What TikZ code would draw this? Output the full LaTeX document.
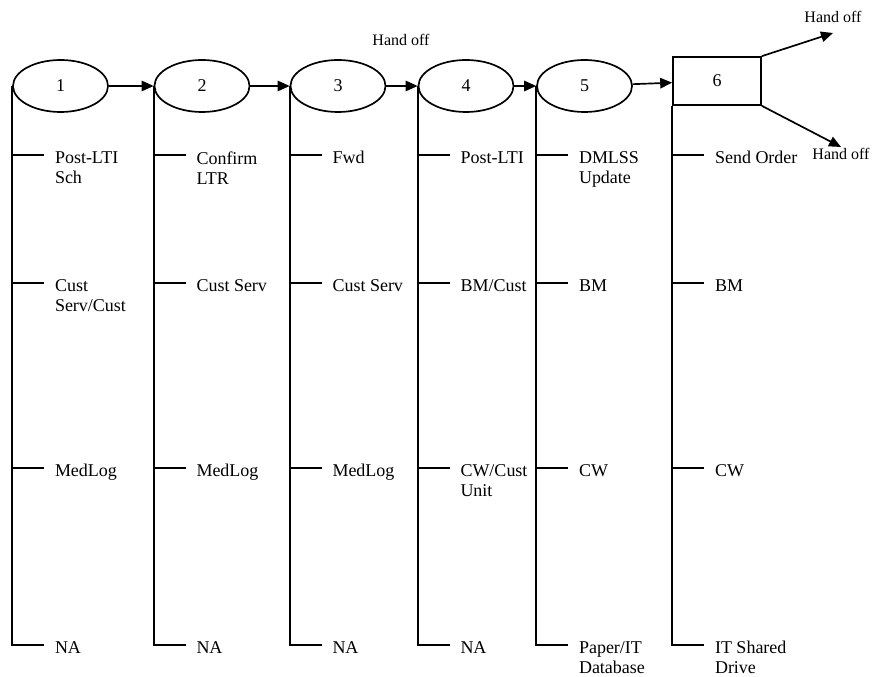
\documentclass[tikz,border=0pt]{standalone}
\usepackage{fontspec}
\setmainfont{Liberation Serif}
\usetikzlibrary{shapes.geometric, arrows.meta, positioning}

\begin{document}
\begin{tikzpicture}[
  line width=1.2pt,
  stn/.style={ellipse, draw, minimum width=2.375cm, minimum height=1.3cm,
    inner sep=0pt, font=\fontsize{12.8}{14.2}\selectfont},
  endbox/.style={rectangle, draw, minimum width=2.2cm, minimum height=1.2cm,
    inner sep=0pt, font=\fontsize{12.8}{14.2}\selectfont},
  arr/.style={-{Triangle[length=3mm, width=2.6mm]}},
  lbl/.style={anchor=north west, inner sep=0pt, align=left,
    xshift=0.25cm, yshift=0.11cm, font=\fontsize{12.8}{14.2}\selectfont},
  hnd/.style={inner sep=0pt, font=\fontsize{11.4}{13}\selectfont},
]
\useasboundingbox (0,0) rectangle (21.8,-16.925);

% steps
\node[stn]    (s1) at (1.5125,  -2.15)  {1};
\node[stn]    (s2) at (5.05,    -2.15)  {2};
\node[stn]    (s3) at (8.45,    -2.15)  {3};
\node[stn]    (s4) at (11.65,   -2.15)  {4};
\node[stn]    (s5) at (14.6125, -2.15)  {5};
\node[endbox] (s6) at (17.925,  -2.025) {6};

\draw[arr] (s1.east) -- (s2.west);
\draw[arr] (s2.east) -- (s3.west);
\draw[arr] (s3.east) -- (s4.west);
\draw[arr] (s4.east) -- (s5.west);
\draw[arr] (s5) -- (s6);

% hand offs
\node[hnd] (ho1) at (10.025, -1.0)  {Hand off};
\coordinate (h1) at (20.825, -0.825);
\coordinate (h2) at (21.025, -3.675);
\node[hnd] (ho2) at (20.825, -0.425) {Hand off};
\node[hnd] (ho3) at (21.025, -3.85)  {Hand off};
\draw[arr] (s6.north east) -- (h1);
\draw[arr] (s6.south east) -- (h2);

% column 1
\draw (s1.west) -- (s1.west |- 0,-16.125) -- ++(0.8,0) node[lbl] (l14) {NA};
\draw (s1.west |- 0,-3.875) -- ++(0.8,0) node[lbl] (l11) {Post-LTI\\Sch};
\draw (s1.west |- 0,-7.075) -- ++(0.8,0) node[lbl] (l12) {Cust\\Serv/Cust};
\draw (s1.west |- 0,-11.7)  -- ++(0.8,0) node[lbl] (l13) {MedLog};

% column 2
\draw (s2.west) -- (s2.west |- 0,-16.125) -- ++(0.8,0) node[lbl] (l24) {NA};
\draw (s2.west |- 0,-3.875) -- ++(0.8,0) node[lbl] (l21) {Confirm\\LTR};
\draw (s2.west |- 0,-7.075) -- ++(0.8,0) node[lbl] (l22) {Cust Serv};
\draw (s2.west |- 0,-11.7)  -- ++(0.8,0) node[lbl] (l23) {MedLog};

% column 3
\draw (s3.west) -- (s3.west |- 0,-16.125) -- ++(0.8,0) node[lbl] (l34) {NA};
\draw (s3.west |- 0,-3.875) -- ++(0.8,0) node[lbl] (l31) {Fwd};
\draw (s3.west |- 0,-7.075) -- ++(0.8,0) node[lbl] (l32) {Cust Serv};
\draw (s3.west |- 0,-11.7)  -- ++(0.8,0) node[lbl] (l33) {MedLog};

% column 4
\draw (s4.west) -- (s4.west |- 0,-16.125) -- ++(0.8,0) node[lbl] (l44) {NA};
\draw (s4.west |- 0,-3.875) -- ++(0.8,0) node[lbl] (l41) {Post-LTI};
\draw (s4.west |- 0,-7.075) -- ++(0.8,0) node[lbl] (l42) {BM/Cust};
\draw (s4.west |- 0,-11.7)  -- ++(0.8,0) node[lbl] (l43) {CW/Cust\\Unit};

% column 5
\draw (s5.west) -- (s5.west |- 0,-16.125) -- ++(0.8,0) node[lbl] (l54) {Paper/IT\\Database};
\draw (s5.west |- 0,-3.875) -- ++(0.8,0) node[lbl] (l51) {DMLSS\\Update};
\draw (s5.west |- 0,-7.075) -- ++(0.8,0) node[lbl] (l52) {BM};
\draw (s5.west |- 0,-11.7)  -- ++(0.8,0) node[lbl] (l53) {CW};

% column 6
\draw (s6.south west) -- (s6.west |- 0,-16.125) -- ++(0.8,0) node[lbl] (l64) {IT Shared\\Drive};
\draw (s6.west |- 0,-3.875) -- ++(0.8,0) node[lbl] (l61) {Send Order};
\draw (s6.west |- 0,-7.075) -- ++(0.8,0) node[lbl] (l62) {BM};
\draw (s6.west |- 0,-11.7)  -- ++(0.8,0) node[lbl] (l63) {CW};
\end{tikzpicture}
\end{document}
